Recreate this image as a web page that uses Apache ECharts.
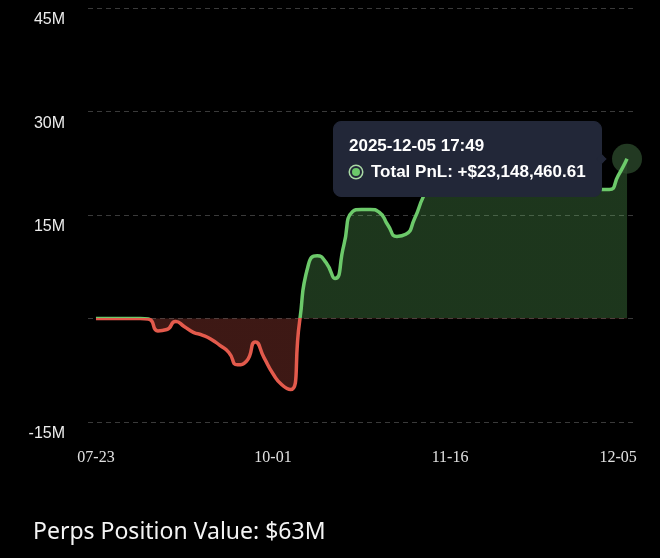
<!DOCTYPE html>
<html>
<head>
<meta charset="utf-8">
<script src="https://cdn.jsdelivr.net/npm/echarts@6/dist/echarts.min.js"></script>
<style>
  html, body { margin: 0; padding: 0; background: #000; }
  #chart { width: 660px; height: 558px; }
</style>
</head>
<body>
<div id="chart"></div>
<script>
// x tick positions (point index) and their labels
const tickIdx = [0, 20, 40, 59];
const tickLabels = ['07-23', '10-01', '11-16', '12-05'];

// total PnL, millions of USD, one value per sample
const pnl = [
  0, 0, 0, 0, 0, 0, -0.1, -1.8, -1.6, -0.45,
  -1.2, -2.0, -2.4, -3.0, -3.9, -4.9, -6.7, -6.2, -3.4, -5.7,
  -8.0, -9.6, -10.3, -0.5, 7.8, 9.1, 8.1, 5.8, 10.6, 15.5,
  15.8, 15.8, 15.4, 13.5, 11.9, 12.2, 14.5, 17.7, 20.0, 22.0,
  23.0, 24.0, 24.5, 24.0, 23.0, 22.5, 23.5, 24.5, 24.0, 22.5,
  21.5, 22.0, 22.5, 21.0, 20.0, 19.2, 18.8, 18.7, 18.7, 20.7,
  23.15
];

const lastTime = '2025-12-05 17:49';
const lastPnl = 23148460.61;
const positionValue = '$63M';

const green = '#6cc96a';
const red = '#e35a4c';

const points = pnl.map((v, i) => [i, v]);
const lastIdx = points.length - 1;

const chart = echarts.init(document.getElementById('chart'));

const fmtMoney = (v) =>
  (v >= 0 ? '+$' : '-$') +
  Math.abs(v).toLocaleString('en-US', { minimumFractionDigits: 2, maximumFractionDigits: 2 });

chart.setOption({
  animation: false,
  backgroundColor: '#000',
  grid: { left: 88, right: 25, top: 8, bottom: 136, outerBoundsMode: 'none' },
  tooltip: {
    trigger: 'item',
    triggerOn: 'none',
    alwaysShowContent: true,
    transitionDuration: 0,
    position: 'left',
    backgroundColor: '#222738',
    borderColor: '#222738',
    borderWidth: 1,
    borderRadius: 8,
    padding: [11, 15],
    extraCssText: 'box-shadow:none;',
    formatter: () =>
      '<div style="font:bold 17px \'Liberation Sans\',Arial,sans-serif;color:#fff;line-height:26px">' +
      lastTime + '</div>' +
      '<div style="font:bold 17px \'Liberation Sans\',Arial,sans-serif;color:#fff;line-height:26px">' +
      '<span style="display:inline-block;width:8px;height:8px;border-radius:50%;background:' + green +
      ';border:2px solid #222738;box-shadow:0 0 0 1.5px #a9d9a5;margin:0 9px 1px 1px;vertical-align:middle"></span>' +
      'Total PnL: ' + fmtMoney(lastPnl) + '</div>',
  },
  visualMap: {
    show: false,
    seriesIndex: [0, 2],
    dimension: 1,
    pieces: [
      { gte: -100, lt: 0, color: red },
      { gte: 0, lte: 100, color: green },
    ],
  },
  xAxis: {
    type: 'value',
    min: -0.9,
    max: lastIdx + 0.9,
    axisLine: { show: false },
    axisTick: { show: false },
    splitLine: { show: false },
    axisLabel: {
      customValues: tickIdx,
      color: '#e0e0e0',
      fontFamily: 'Liberation Serif',
      fontSize: 16,
      margin: 28,
      formatter: (v) => tickLabels[tickIdx.indexOf(v)] || '',
    },
  },
  yAxis: {
    type: 'value',
    min: -15,
    max: 45,
    interval: 15,
    axisLine: { show: false },
    axisTick: { show: false },
    splitLine: { lineStyle: { color: '#3a3a3a', type: [5, 4], width: 1 } },
    axisLabel: {
      color: '#ececec',
      fontFamily: 'Liberation Sans',
      fontSize: 16,
      margin: 23,
      verticalAlign: 'top',
      padding: [4, 0, 0, 0],
      formatter: (v) => (v === 0 ? '' : v + 'M'),
    },
  },
  series: [
    {
      // filled area only
      type: 'line',
      z: 1,
      smooth: 0.6,
      showSymbol: false,
      silent: true,
      lineStyle: { width: 0 },
      areaStyle: { opacity: 0.27 },
      data: points,
    },
    {
      // hover halo at the latest point
      type: 'scatter',
      z: 2,
      symbolSize: 30,
      itemStyle: { color: '#2a472a' },
      data: [points[lastIdx]],
    },
    {
      type: 'line',
      z: 3,
      smooth: 0.6,
      showSymbol: false,
      silent: true,
      lineStyle: { width: 3.5 },
      data: points,
    },
  ],
  graphic: [
    {
      type: 'text',
      left: 33,
      top: 521,
      style: {
        text: 'Perps Position Value: ' + positionValue,
        fill: '#f4f4f4',
        font: '23px "Noto Sans", sans-serif',
      },
    },
  ],
});

chart.dispatchAction({ type: 'showTip', seriesIndex: 1, dataIndex: 0 });
</script>
</body>
</html>
